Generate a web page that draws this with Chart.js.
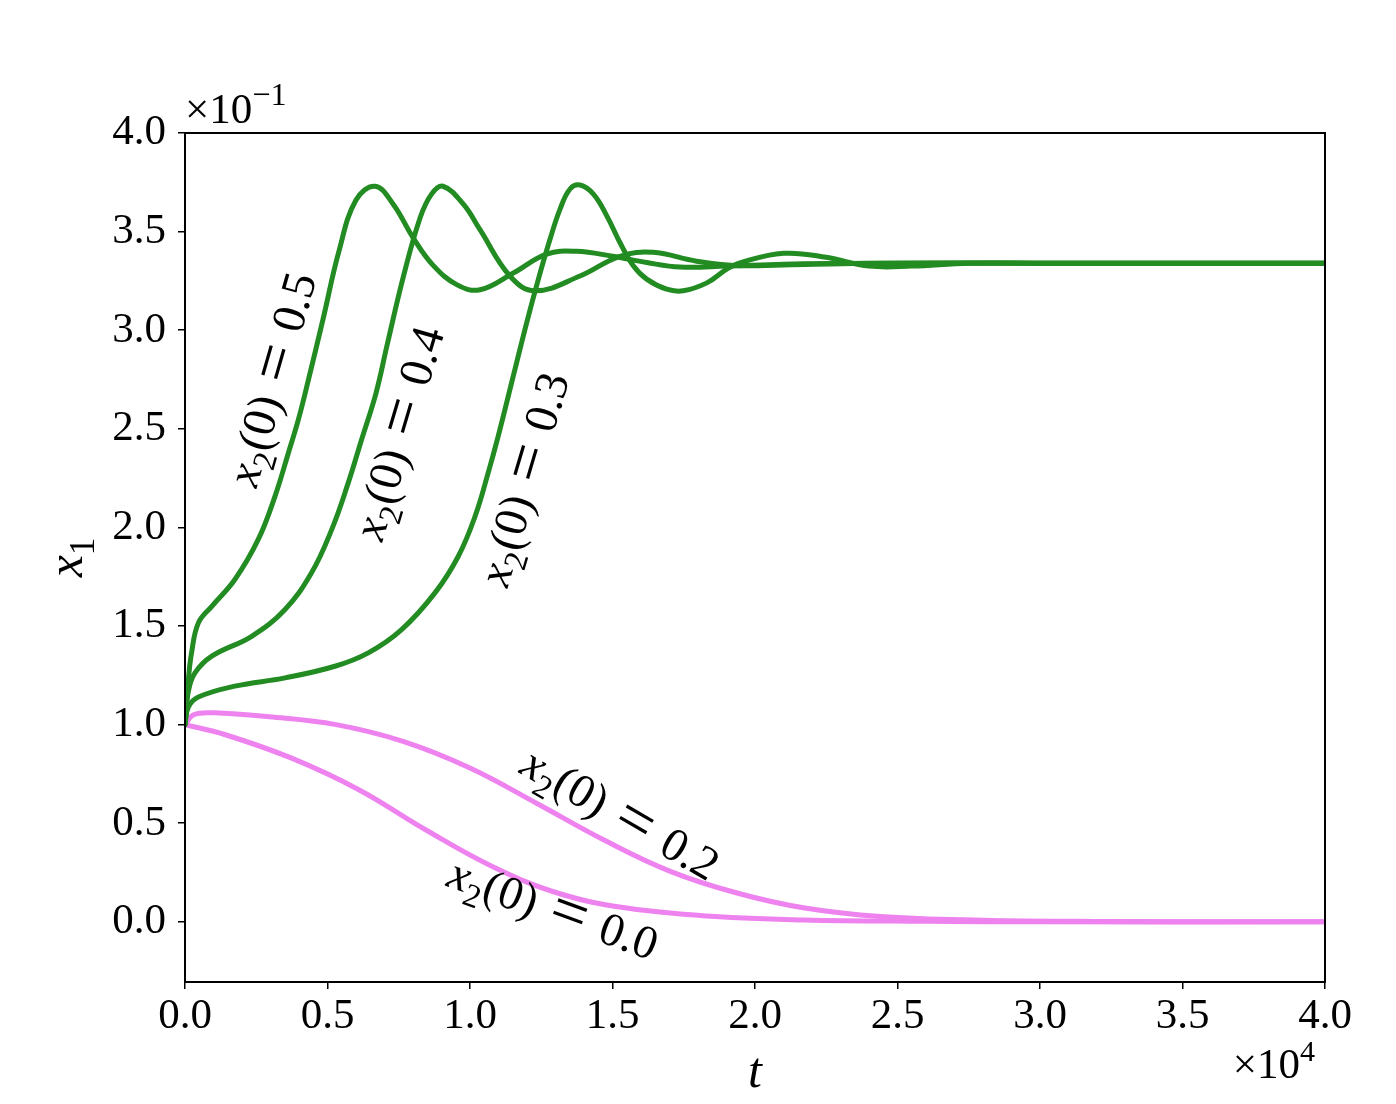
<!DOCTYPE html>
<html><head><meta charset="utf-8">
<script src="https://cdn.jsdelivr.net/npm/chart.js@4.4.0/dist/chart.umd.min.js"></script>
<style>html,body{margin:0;padding:0;background:#fff;overflow:hidden}#wrap{width:1396px;height:1104px}</style>
</head><body><div id="wrap"><canvas id="c" width="1396" height="1104"></canvas></div>
<script>
// ---- tick labels (t in units of 1e4, x1 in units of 1e-1) ----
const xTicks = [0.0, 0.5, 1.0, 1.5, 2.0, 2.5, 3.0, 3.5, 4.0];
const yTicks = [0.0, 0.5, 1.0, 1.5, 2.0, 2.5, 3.0, 3.5, 4.0];

// ---- series: x2(0) = 0.5 ----
const t05 = [0, 0.012, 0.023, 0.047, 0.094, 0.175, 0.257, 0.316, 0.363, 0.398, 0.43, 0.485, 0.54, 0.60, 0.667, 0.73, 0.80, 0.87, 0.955, 1.035, 1.152, 1.269, 1.374, 1.50, 1.62, 1.737, 1.90, 2.10, 2.40, 3.0, 4.0];
const x05 = [1.0, 1.23, 1.364, 1.516, 1.60, 1.736, 1.939, 2.159, 2.379, 2.548, 2.73, 3.06, 3.40, 3.66, 3.73, 3.64, 3.47, 3.33, 3.23, 3.205, 3.29, 3.386, 3.40, 3.375, 3.343, 3.32, 3.325, 3.335, 3.34, 3.34, 3.34];
// ---- x2(0) = 0.4 ----
const t04 = [0, 0.012, 0.035, 0.094, 0.234, 0.351, 0.444, 0.515, 0.573, 0.620, 0.67, 0.71, 0.766, 0.825, 0.865, 0.905, 0.976, 1.035, 1.14, 1.228, 1.386, 1.526, 1.642, 1.795, 1.947, 2.2, 2.5, 3.0, 4.0];
const x04 = [1.0, 1.17, 1.262, 1.347, 1.448, 1.584, 1.77, 1.99, 2.227, 2.447, 2.68, 2.93, 3.27, 3.57, 3.69, 3.73, 3.64, 3.51, 3.275, 3.20, 3.275, 3.375, 3.395, 3.35, 3.327, 3.335, 3.34, 3.34, 3.34];
// ---- x2(0) = 0.3 ----
const t03 = [0, 0.012, 0.047, 0.175, 0.351, 0.526, 0.643, 0.76, 0.877, 0.959, 1.018, 1.064, 1.099, 1.152, 1.199, 1.240, 1.281, 1.316, 1.351, 1.386, 1.433, 1.480, 1.526, 1.573, 1.620, 1.690, 1.748, 1.831, 1.901, 1.95, 2.10, 2.25, 2.40, 2.55, 2.75, 3.0, 4.0];
const x03 = [1.0, 1.09, 1.14, 1.195, 1.237, 1.296, 1.364, 1.482, 1.668, 1.854, 2.057, 2.278, 2.463, 2.768, 3.039, 3.259, 3.462, 3.614, 3.716, 3.736, 3.69, 3.58, 3.445, 3.327, 3.259, 3.208, 3.20, 3.24, 3.31, 3.343, 3.39, 3.37, 3.325, 3.325, 3.34, 3.34, 3.34];
// ---- x2(0) = 0.2 ----
const t02 = [0, 0.03, 0.10, 0.295, 0.53, 0.765, 1.0, 1.235, 1.47, 1.705, 1.94, 2.175, 2.44, 2.8, 3.2, 4.0];
const x02 = [1.0, 1.05, 1.06, 1.04, 1.00, 0.915, 0.78, 0.60, 0.415, 0.255, 0.145, 0.07, 0.027, 0.008, 0.002, 0.0];
// ---- x2(0) = 0.0 ----
const t00 = [0, 0.139, 0.374, 0.61, 0.844, 1.08, 1.31, 1.55, 1.86, 2.17, 2.6, 3.0, 4.0];
const x00 = [1.0, 0.95, 0.83, 0.67, 0.467, 0.28, 0.145, 0.07, 0.027, 0.01, 0.003, 0.0, 0.0];

// ---- curve labels ----
const labelValues = ['0.5', '0.4', '0.3', '0.2', '0.0'];
const labelT = [0.309, 0.754, 1.193, 1.526, 1.291];
const labelX1 = [2.75, 2.477, 2.244, 0.543, 0.061];
const labelAngle = [-74, -73.5, -73.5, 30, 20];

const GREEN = '#228B22', PINK = '#EE82EE';
const FONT = '"Liberation Serif", "DejaVu Serif", serif';

function pts(ts, vs) { return ts.map((t, i) => ({x: t, y: vs[i]})); }
function ds(ts, vs, color) {
  return {data: pts(ts, vs), borderColor: color, backgroundColor: color, borderWidth: 5,
    pointRadius: 0, tension: 0.4, fill: false, borderCapStyle: 'round', borderJoinStyle: 'round'};
}

function segW(ctx, s, size) {
  ctx.font = (s.it ? 'italic ' : '') + (size * (s.sc || 1)) + 'px ' + FONT;
  return ctx.measureText(s.t).width;
}
function drawMath(ctx, segs, x, y, size, align) {
  let w = 0; const ws = segs.map(s => { const v = segW(ctx, s, size); w += v; return v; });
  let cx = align === 'center' ? x - w / 2 : (align === 'right' ? x - w : x);
  ctx.textAlign = 'left'; ctx.textBaseline = 'alphabetic'; ctx.fillStyle = '#000';
  segs.forEach((s, i) => {
    ctx.font = (s.it ? 'italic ' : '') + (size * (s.sc || 1)) + 'px ' + FONT;
    ctx.fillText(s.t, cx, y + (s.dy || 0) * size);
    cx += ws[i];
  });
}

const decor = {
  id: 'decor',
  afterDraw(chart) {
    const ctx = chart.ctx, a = chart.chartArea, xs = chart.scales.x, ys = chart.scales.y;
    ctx.save();
    // frame
    ctx.strokeStyle = '#000'; ctx.lineWidth = 2;
    ctx.strokeRect(a.left, a.top, a.right - a.left, a.bottom - a.top);
    // curve labels
    labelValues.forEach((v, i) => {
      const px = xs.getPixelForValue(labelT[i]), py = ys.getPixelForValue(labelX1[i]);
      ctx.save(); ctx.translate(px, py); ctx.rotate(labelAngle[i] * Math.PI / 180);
      const size = 47;
      drawMath(ctx, [{t: 'x', it: true}, {t: '2', sc: 0.7, dy: 0.24}, {t: '(0)\u2004'},
        {t: '=', sc: 1.4, dy: 0.07}, {t: '\u2004' + v}], 0, size * 0.3, size, 'center');
      ctx.restore();
    });
    // axis titles
    drawMath(ctx, [{t: 't', it: true}], (a.left + a.right) / 2, a.bottom + 105, 50, 'center');
    ctx.save(); ctx.translate(a.left - 103, (a.top + a.bottom) / 2); ctx.rotate(-Math.PI / 2);
    drawMath(ctx, [{t: 'x', it: true}, {t: '1', sc: 0.7, dy: 0.24}], 0, 0, 50, 'center');
    ctx.restore();
    // offset texts
    drawMath(ctx, [{t: '\u00d710'}, {t: '4', sc: 0.7, dy: -0.4}], a.right - 10, a.bottom + 96, 43, 'right');
    drawMath(ctx, [{t: '\u00d710'}, {t: '\u22121', sc: 0.75, dy: -0.42}], a.left, a.top - 10, 43, 'left');
    ctx.restore();
  }
};

new Chart(document.getElementById('c'), {
  type: 'line',
  data: {datasets: [ds(t05, x05, GREEN), ds(t04, x04, GREEN), ds(t03, x03, GREEN), ds(t02, x02, PINK), ds(t00, x00, PINK)]},
  options: {
    responsive: false, animation: false, devicePixelRatio: 1,
    layout: {padding: {left: 0, top: 133, right: 71, bottom: 0}},
    plugins: {legend: {display: false}, tooltip: {enabled: false}},
    scales: {
      x: {type: 'linear', min: 0, max: 4,
        afterBuildTicks: s => { s.ticks = xTicks.map(v => ({value: v})); },
        afterFit: s => { s.height = 122; },
        grid: {drawOnChartArea: false, drawTicks: true, tickLength: 7, color: '#000', lineWidth: 1.5},
        border: {display: true, color: '#000', width: 2},
        ticks: {color: '#000', font: {family: FONT, size: 43}, padding: 2, maxRotation: 0,
          callback: v => Number(v).toFixed(1)}},
      y: {type: 'linear', min: -0.305, max: 4.0,
        afterBuildTicks: s => { s.ticks = yTicks.map(v => ({value: v})); },
        afterFit: s => { s.width = 185; },
        grid: {drawOnChartArea: false, drawTicks: true, tickLength: 7, color: '#000', lineWidth: 1.5},
        border: {display: true, color: '#000', width: 2},
        ticks: {color: '#000', font: {family: FONT, size: 43}, padding: 12,
          callback: v => Number(v).toFixed(1)}}
    }
  },
  plugins: [decor]
});
</script></body></html>
